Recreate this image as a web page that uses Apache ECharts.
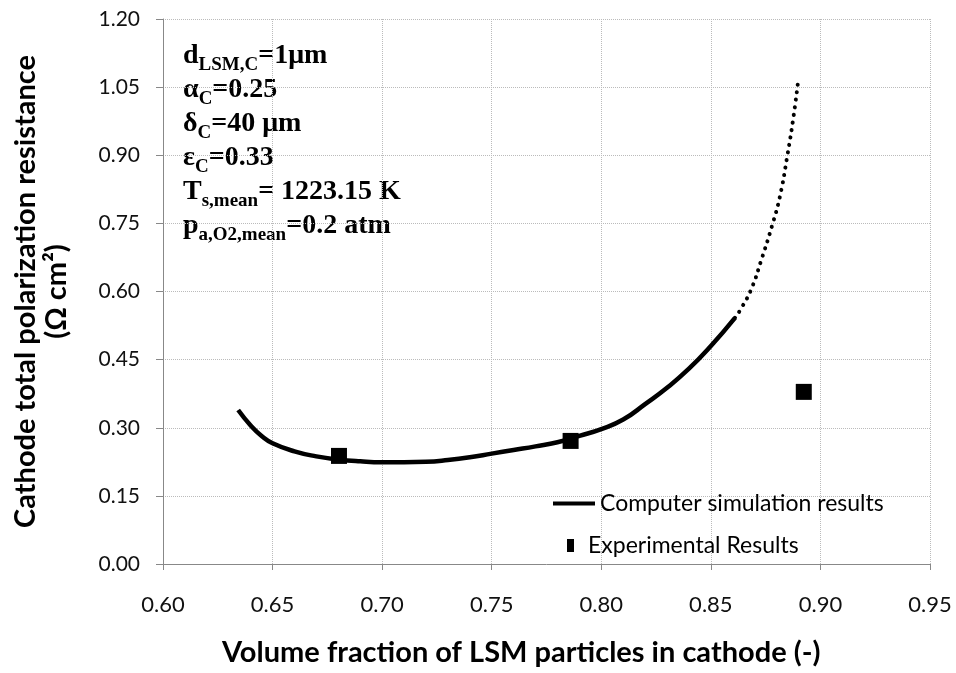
<!DOCTYPE html>
<html><head><meta charset="utf-8">
<script src="https://cdn.jsdelivr.net/npm/echarts@6/dist/echarts.min.js"></script>
<style>html,body{margin:0;padding:0;background:#fff}#c{width:956px;height:673px}</style>
</head><body><div id="c"></div>
<script>
const xTicks = [0.60, 0.65, 0.70, 0.75, 0.80, 0.85, 0.90, 0.95];
const yTicks = [0.00, 0.15, 0.30, 0.45, 0.60, 0.75, 0.90, 1.05, 1.20];
const simX = [0.6343,0.640,0.645,0.650,0.660,0.670,0.680,0.690,0.700,0.710,0.720,0.730,0.740,0.750,0.760,0.770,0.780,0.790,0.800,0.810,0.820,0.830,0.840,0.850,0.861];
const simY = [0.339,0.305,0.282,0.266,0.248,0.237,0.230,0.226,0.224,0.224,0.225,0.229,0.235,0.243,0.251,0.259,0.268,0.282,0.297,0.318,0.352,0.388,0.430,0.480,0.542];
const extX = [0.861,0.864,0.8686,0.873,0.878,0.8815,0.885,0.8876,0.8898];
const extY = [0.542,0.564,0.607,0.669,0.746,0.809,0.902,0.981,1.062];
const expX = [0.6803,0.786,0.8924];
const expY = [0.238,0.271,0.379];
const annLines = [
  '{m|d}{s|LSM,C}{m|=1μm}',
  '{m|α}{s|C}{m|=0.25}',
  '{m|δ}{s|C}{m|=40 μm}',
  '{m|ε}{s|C}{m|=0.33}',
  '{m|T}{s|s,mean}{m|= 1223.15 K}',
  '{m|p}{s|a,O2,mean}{m|=0.2 atm}'
];
const zip = (a,b)=>a.map((v,i)=>[v,b[i]]);
const sans = 'Lato, "Open Sans", sans-serif';
const chart = echarts.init(document.getElementById('c'));
const rich = {
  m:{fontFamily:'"Liberation Serif", serif',fontWeight:'bold',fontSize:28,lineHeight:32,verticalAlign:'top',color:'#000'},
  s:{fontFamily:'"Liberation Serif", serif',fontWeight:'bold',fontSize:19,lineHeight:22,padding:[14,0,0,0],verticalAlign:'top',color:'#000'}
};
chart.setOption({
  animation:false,
  backgroundColor:'#fff',
  grid:{left:163,right:26,top:19,bottom:109},
  xAxis:{type:'value',min:0.60,max:0.95,interval:0.05,
    axisLine:{lineStyle:{color:'#888',width:1}},
    axisTick:{show:true,length:6,lineStyle:{color:'#888'}},
    axisLabel:{formatter:v=>v.toFixed(2),fontFamily:sans,fontSize:22,color:'#111',margin:30},
    splitLine:{show:true,lineStyle:{color:'#bbb',type:'dotted',width:1}}},
  yAxis:{type:'value',min:0,max:1.20,interval:0.15,
    name:'Cathode total polarization resistance\n(Ω cm²)',nameLocation:'middle',nameGap:91,
    nameTextStyle:{fontFamily:sans,fontWeight:'bold',fontSize:29,color:'#000',lineHeight:31},
    axisLine:{show:true,lineStyle:{color:'#888',width:1}},
    axisTick:{show:true,length:7,lineStyle:{color:'#888'}},
    axisLabel:{formatter:v=>v.toFixed(2),fontFamily:sans,fontSize:21,color:'#111',margin:23},
    splitLine:{show:true,lineStyle:{color:'#bbb',type:'dotted',width:1}}},
  legend:[
    {left:548,top:487,itemWidth:42,itemHeight:4,icon:'rect',data:['Computer simulation results'],
     textStyle:{fontFamily:sans,fontSize:23,color:'#000'}},
    {left:562,top:529,itemWidth:7,itemHeight:13,icon:'rect',data:['Experimental Results'],
     textStyle:{fontFamily:sans,fontSize:23,color:'#000',padding:[0,0,0,9]}}
  ],
  graphic:[
    {type:'text',left:222,top:638,style:{text:'Volume fraction of LSM particles in cathode (-)',font:'bold 29px '+sans,fill:'#000'}}
  ].concat(annLines.map((t,i)=>({type:'text',left:183,top:42+i*34,style:{text:t,rich:rich}}))),
  series:[
    {name:'Computer simulation results',type:'line',data:zip(simX,simY),showSymbol:false,smooth:true,
     lineStyle:{color:'#000',width:4.5},itemStyle:{color:'#000'}},
    {name:'ext',type:'line',data:zip(extX,extY),showSymbol:false,smooth:true,
     lineStyle:{color:'#000',width:4,type:[0.1,7.5],cap:'round'}},
    {name:'Experimental Results',type:'scatter',data:zip(expX,expY),symbol:'rect',symbolSize:16,
     itemStyle:{color:'#000',opacity:1}}
  ]
});
</script></body></html>
